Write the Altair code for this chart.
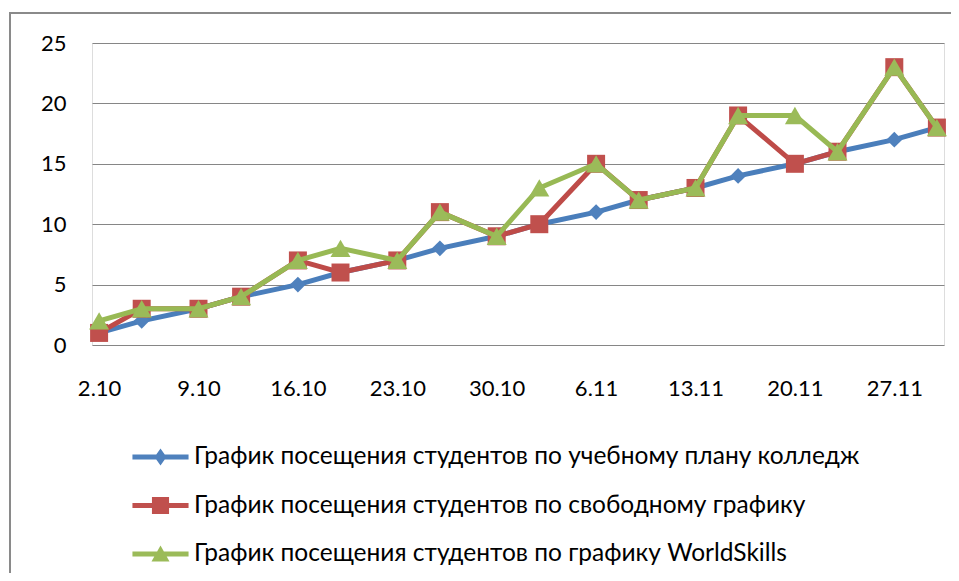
import altair as alt
import pandas as pd

series_names = [
    "График посещения студентов по учебному плану колледж",
    "График посещения студентов по свободному графику",
    "График посещения студентов по графику WorldSkills",
]
dates = ["2017-10-02", "2017-10-05", "2017-10-09", "2017-10-12", "2017-10-16",
         "2017-10-19", "2017-10-23", "2017-10-26", "2017-10-30", "2017-11-02",
         "2017-11-06", "2017-11-09", "2017-11-13", "2017-11-16", "2017-11-20",
         "2017-11-23", "2017-11-27", "2017-11-30"]
college = [1, 2, 3, 4, 5, 6, 7, 8, 9, 10, 11, 12, 13, 14, 15, 16, 17, 18]
free = [1, 3, 3, 4, 7, 6, 7, 11, 9, 10, 15, 12, 13, 19, 15, 16, 23, 18]
worldskills = [2, 3, 3, 4, 7, 8, 7, 11, 9, 13, 15, 12, 13, 19, 19, 16, 23, 18]
tick_days = [(10, 2), (10, 9), (10, 16), (10, 23), (10, 30),
             (11, 6), (11, 13), (11, 20), (11, 27)]
y_ticks = [0, 5, 10, 15, 20, 25]

line_colors = ["#4A7EBB", "#BE4B48", "#98B954"]
fill_colors = ["#4F81BD", "#C0504D", "#9BBB59"]
shapes = ["diamond", "square", "triangle-up"]
sizes = [250, 324, 400]

# legend symbols: line + marker (unit = 15px)
bar = "M-1.87,-0.16H1.87V0.16H-1.87Z "
legend_paths = [
    bar + "M0,-0.57L0.4,0L0,0.57L-0.4,0Z",
    bar + "M-0.57,-0.57H0.57V0.57H-0.57Z",
    bar + "M0,-0.57L0.6,0.5L-0.6,0.5Z",
]

rows = []
for name, vals in zip(series_names, [college, free, worldskills]):
    for d, v in zip(dates, vals):
        rows.append({"series": name, "date": d, "value": v})
df = pd.DataFrame(rows)

FONT = "Lato"
x_enc = alt.X(
    "date:T",
    scale=alt.Scale(
        type="utc",
        domain=[alt.DateTime(year=2017, month=10, date=1, hours=12, utc=True),
                alt.DateTime(year=2017, month=11, date=30, hours=12, utc=True)],
    ),
    axis=alt.Axis(
        values=[alt.DateTime(year=2017, month=m, date=d, utc=True) for m, d in tick_days],
        labelExpr="utcFormat(datum.value, '%-d.%m')", title=None, grid=False,
        domain=False, ticks=False, labelFont=FONT, labelFontSize=22,
        labelColor="#000", labelPadding=33,
    ),
)
y_enc = alt.Y(
    "value:Q",
    scale=alt.Scale(domain=[0, 25], nice=False),
    axis=alt.Axis(
        values=y_ticks, title=None, domain=False, ticks=False, grid=True,
        gridColor="#868686", gridWidth=1, labelFont=FONT, labelFontSize=22,
        labelColor="#000", labelPadding=26,
    ),
)

frame = alt.Chart(pd.DataFrame({"a": [0]})).mark_rect(
    fill="transparent", stroke="#8a8a8a", strokeWidth=2
).encode(x=alt.value(-82), x2=alt.value(1200), y=alt.value(-30), y2=alt.value(900))

layers = [frame]
for i, name in enumerate(series_names):
    sub = df[df["series"] == name]
    base = alt.Chart(sub).encode(x=x_enc, y=y_enc)
    layers.append(base.mark_line(color=line_colors[i], strokeWidth=5))
    layers.append(base.mark_point(shape=shapes[i], filled=True, size=sizes[i],
                                  color=fill_colors[i], opacity=1))

legend = alt.Legend(
    title=None, orient="none", legendX=53.5, legendY=399, direction="vertical",
    padding=0, rowPadding=21.5, labelOffset=18.5, labelFont=FONT, labelFontSize=24.5,
    labelColor="#000", labelLimit=0, symbolStrokeWidth=0, symbolOpacity=1,
    symbolSize=900,
)
legend_layer = alt.Chart(df).transform_filter("false").mark_point(
    filled=True, size=900, opacity=1
).encode(
    x=x_enc, y=y_enc,
    color=alt.Color("series:N", scale=alt.Scale(domain=series_names, range=fill_colors),
                    legend=legend),
    shape=alt.Shape("series:N", scale=alt.Scale(domain=series_names, range=legend_paths),
                    legend=legend),
)
layers.append(legend_layer)

chart = alt.layer(*layers).properties(
    width=852, height=302,
    padding={"left": 84, "top": 35, "right": 7, "bottom": 228},
    autosize=alt.AutoSizeParams(type="none"),
).configure_view(stroke=None).configure(background="white")

chart.save("out.html", embed_options={"renderer": "svg", "actions": False})
